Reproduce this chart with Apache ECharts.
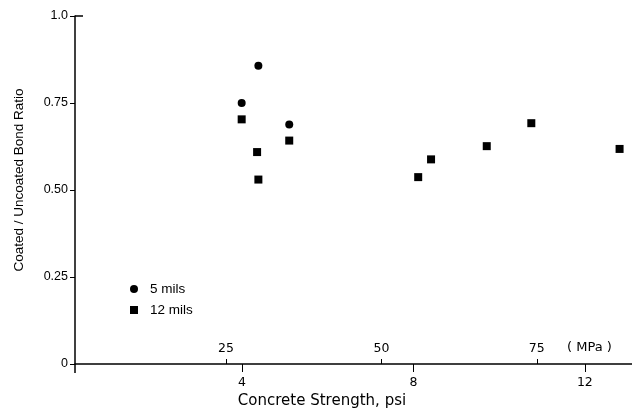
<!DOCTYPE html>
<html>
<head>
<meta charset="utf-8">
<script src="https://cdn.jsdelivr.net/npm/echarts@6/dist/echarts.min.js"></script>
<style>
  html, body { margin: 0; padding: 0; background: #fff; }
  #chart { width: 632px; height: 409px; }
</style>
</head>
<body>
<div id="chart"></div>
<script>
// strength in ksi ("psi" axis, thousands), ratio coated / uncoated
const mils5 = [[3.99, 0.75], [4.38, 0.857], [5.10, 0.688]];
const mils12 = [
  [3.99, 0.703], [4.35, 0.609], [4.38, 0.530], [5.10, 0.642],
  [8.11, 0.537], [8.41, 0.588], [9.71, 0.626], [10.75, 0.692], [12.81, 0.618]
];
const psiTicks = [4, 8, 12];
const mpaTicks = [25, 50, 75];

const KSI_TO_MPA = 6.895;
const X_MIN = 0.1, X_MAX = 13.1;

const chart = echarts.init(document.getElementById('chart'));

chart.setOption({
  animation: false,
  backgroundColor: '#fff',
  grid: { left: 75, right: 0, top: 16, bottom: 45, outerBoundsMode: 'none', containLabel: false },
  legend: {
    orient: 'vertical',
    left: 125,
    top: 277,
    itemWidth: 8,
    itemHeight: 8,
    itemGap: 7,
    textStyle: { fontFamily: 'Liberation Sans', fontSize: 13.5, color: '#000', lineHeight: 14, padding: [0, 0, 0, 7] },
    data: [{ name: '5 mils', icon: 'circle' }, { name: '12 mils', icon: 'rect' }]
  },
  xAxis: [{
    type: 'value',
    min: X_MIN,
    max: X_MAX,
    position: 'bottom',
    name: 'Concrete Strength, psi',
    nameLocation: 'middle',
    nameGap: 28,
    nameTextStyle: { fontFamily: 'DejaVu Sans', fontSize: 15, color: '#000', padding: [0, 63, 0, 0] },
    axisLine: { lineStyle: { color: '#000', width: 1.5 } },
    axisTick: { length: 8, customValues: psiTicks, lineStyle: { color: '#000' } },
    axisLabel: { customValues: psiTicks, margin: 12, fontFamily: 'DejaVu Sans', fontSize: 12.5, color: '#000' },
    splitLine: { show: false }
  }, {
    type: 'value',
    min: X_MIN * KSI_TO_MPA,
    max: X_MAX * KSI_TO_MPA,
    position: 'bottom',
    axisLine: { show: false },
    axisTick: { inside: true, length: 5, customValues: mpaTicks, lineStyle: { color: '#000' } },
    axisLabel: { inside: true, margin: 9, customValues: mpaTicks, fontFamily: 'DejaVu Sans', fontSize: 12.5, color: '#000' },
    splitLine: { show: false }
  }],
  yAxis: {
    type: 'value',
    min: 0,
    max: 1,
    interval: 0.25,
    name: 'Coated / Uncoated Bond Ratio',
    nameLocation: 'middle',
    nameGap: 49,
    nameTextStyle: { fontFamily: 'Liberation Sans', fontSize: 13.5, color: '#000', padding: [0, 0, 0, 20] },
    axisLine: { lineStyle: { color: '#000', width: 1.5 } },
    axisTick: { length: 5, lineStyle: { color: '#000' } },
    axisLabel: {
      margin: 7,
      fontFamily: 'Liberation Sans',
      fontSize: 12.5,
      color: '#000',
      formatter: v => (v === 0 ? '0' : v === 1 ? '1.0' : v.toFixed(2))
    },
    splitLine: { show: false }
  },
  graphic: [
    { type: 'line', shape: { x1: 75, y1: 16, x2: 83, y2: 16 }, style: { stroke: '#000', lineWidth: 1.5 } },
    { type: 'line', shape: { x1: 75, y1: 364, x2: 75, y2: 373 }, style: { stroke: '#000', lineWidth: 1.5 } },
    { type: 'text', left: 567, top: 341, style: { text: '( MPa )', font: '13px "DejaVu Sans"', fill: '#000' } }
  ],
  series: [{
    name: '5 mils',
    type: 'scatter',
    symbol: 'circle',
    symbolSize: 8,
    itemStyle: { color: '#000', opacity: 1 },
    data: mils5
  }, {
    name: '12 mils',
    type: 'scatter',
    symbol: 'rect',
    symbolSize: 8,
    itemStyle: { color: '#000', opacity: 1 },
    data: mils12
  }]
});
</script>
</body>
</html>
